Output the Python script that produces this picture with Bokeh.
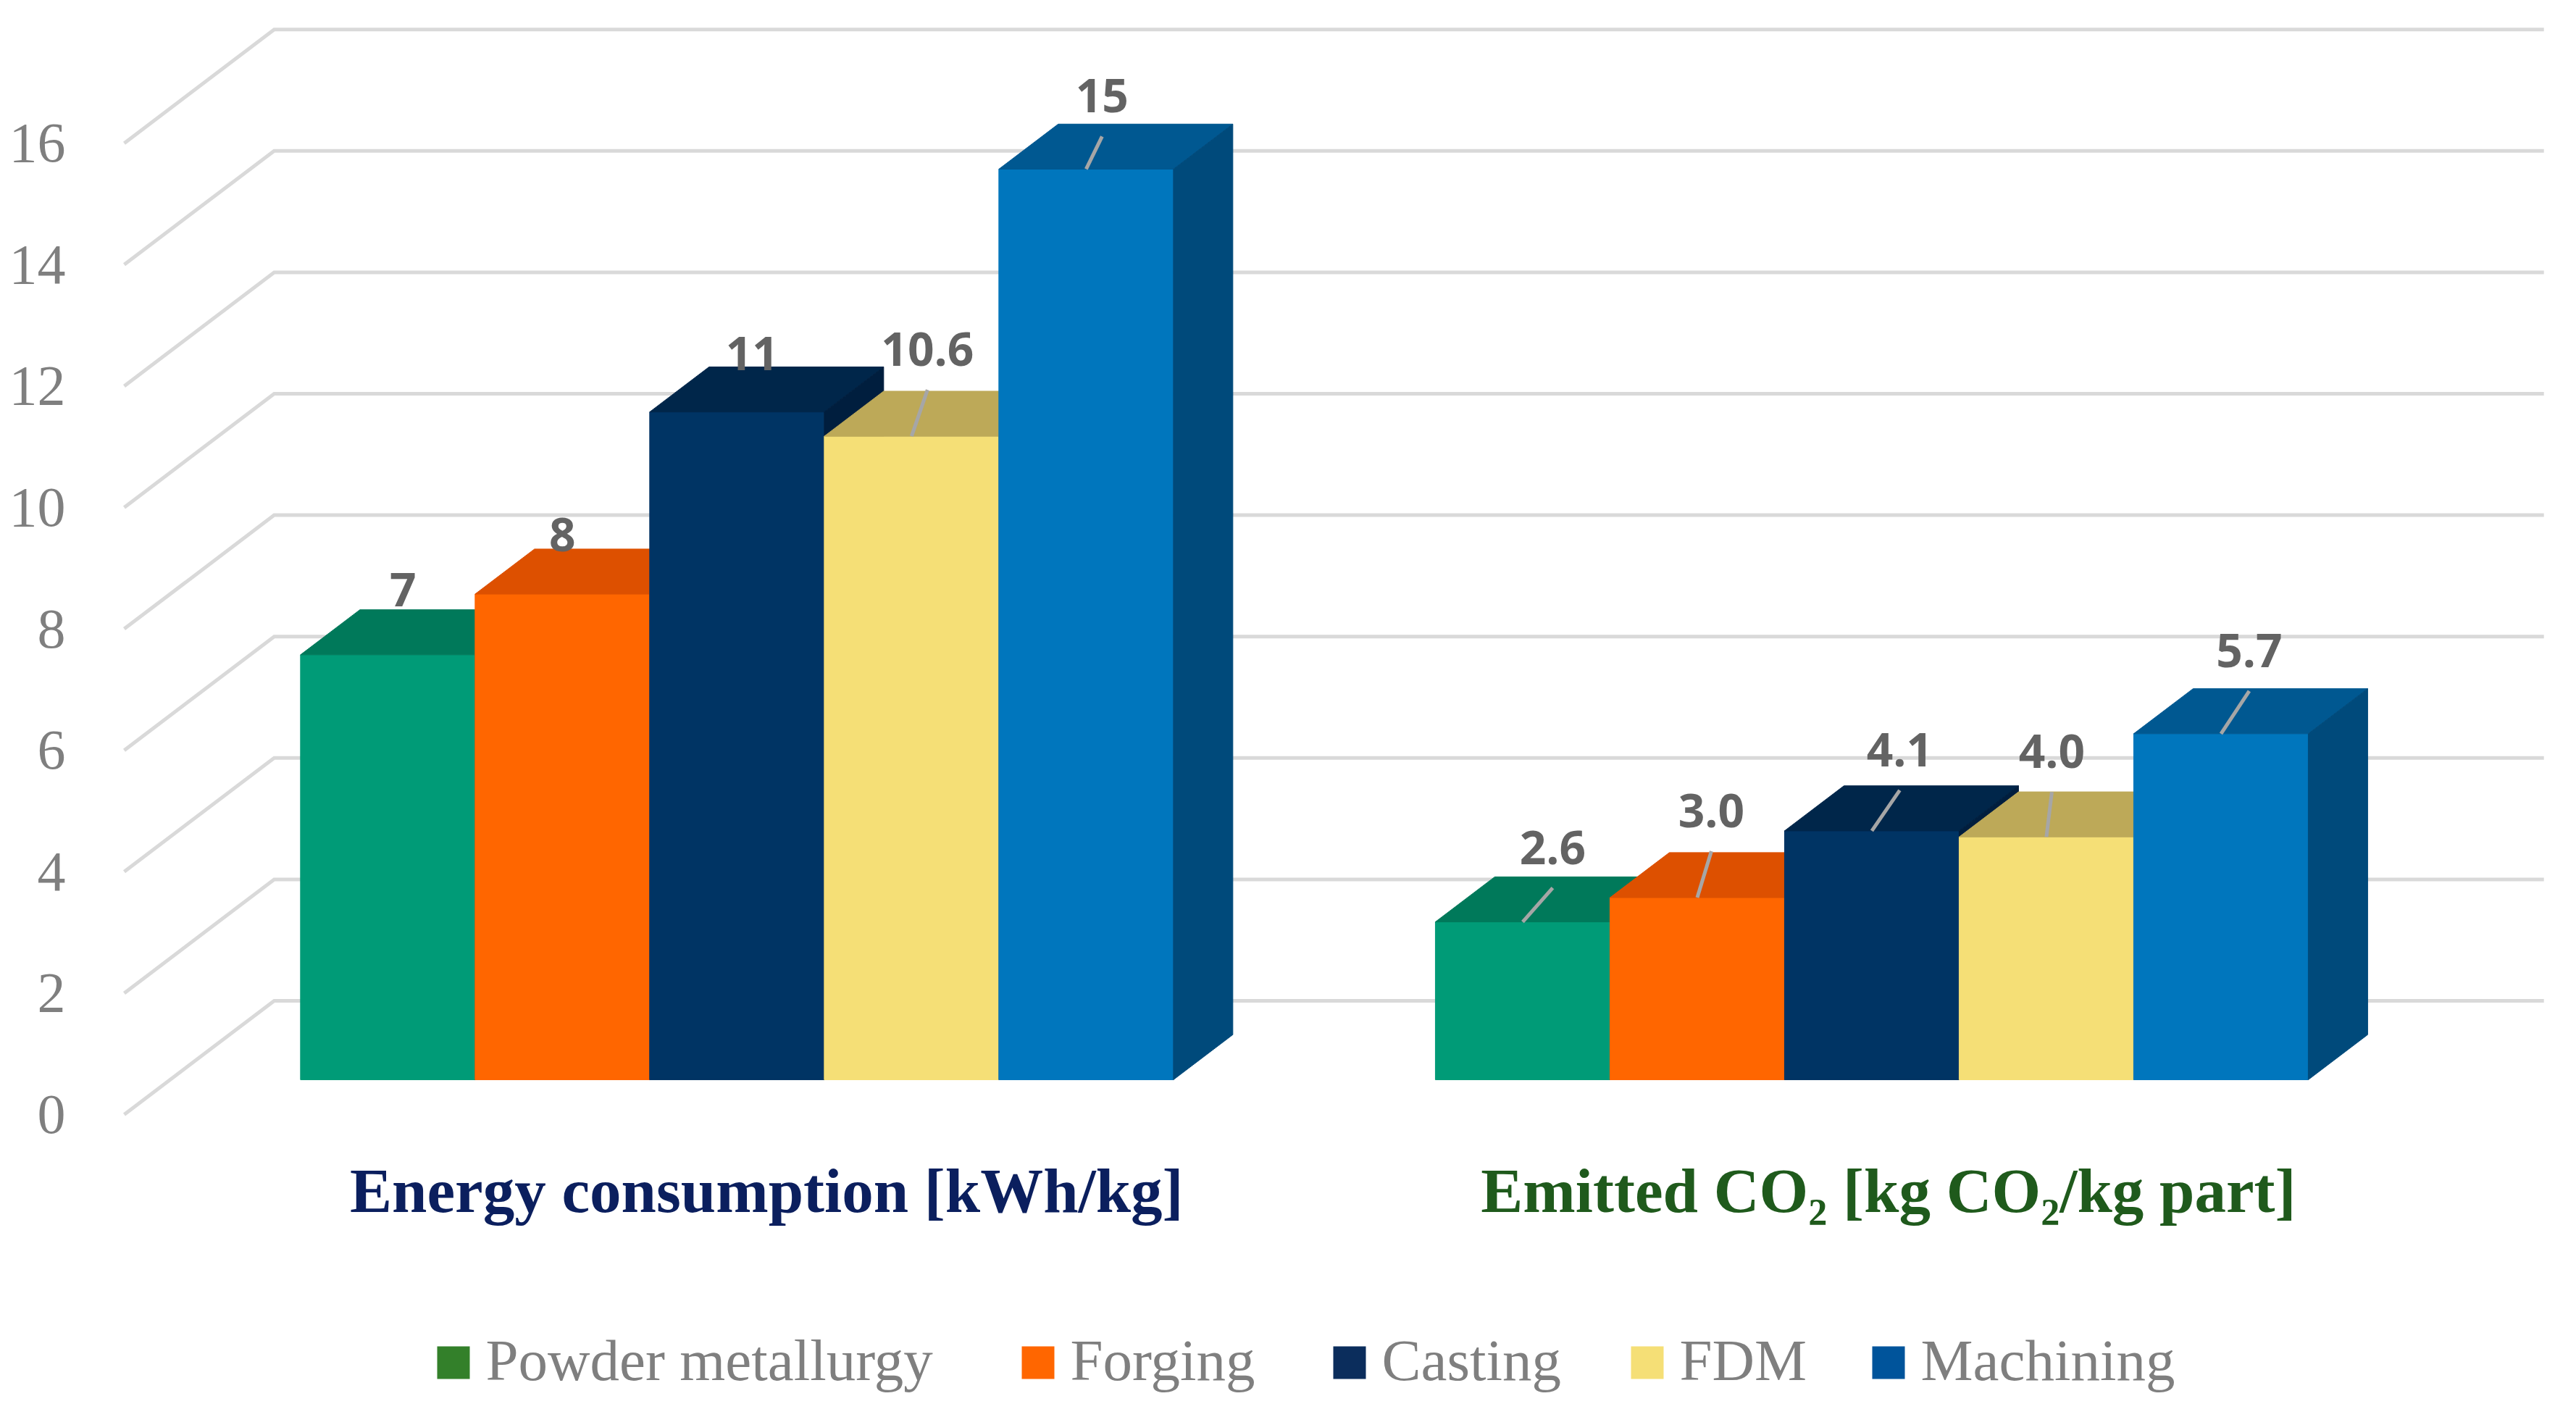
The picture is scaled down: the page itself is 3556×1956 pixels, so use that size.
from bokeh.plotting import figure
from bokeh.models import Range1d, FixedTicker
from bokeh.embed import file_html
from bokeh.resources import INLINE
from bokeh.core.properties import value

# ---------------- data ----------------
categories = ["Energy consumption [kWh/kg]", "Emitted CO\u2082 [kg CO\u2082/kg part]"]
series = ["Powder metallurgy", "Forging", "Casting", "FDM", "Machining"]
energy_consumption = [7, 8, 11, 10.6, 15]
emitted_co2 = [2.6, 3.0, 4.1, 4.0, 5.7]
energy_text = ["7", "8", "11", "10.6", "15"]
co2_text = ["2.6", "3.0", "4.1", "4.0", "5.7"]
y_ticks = [0, 2, 4, 6, 8, 10, 12, 14, 16]

# ---------------- styles ----------------
category_colors = ["#0B1F5E", "#1F5A1C"]
front_colors = ["#009B77", "#FF6600", "#003464", "#F5DF76", "#0076BD"]
top_colors = ["#00795A", "#DD5000", "#00264A", "#BDA958", "#005891"]
side_colors = ["#006A4E", "#C04600", "#001E3E", "#A89650", "#004A7B"]
legend_colors = ["#33802A", "#FF6600", "#0B2D5C", "#F5DF76", "#00549B"]
grid_color = "#D9D9D9"
label_color = "#636363"
axis_text_color = "#7F7F7F"

# ---------------- layout (pixels) ----------------
W, H = 3540, 1940
MARGIN = 0           # bokeh's page template has no body margin
PX = 83.8            # pixels per value unit
Y0 = 1538            # page y of value 0 on the front plane
FX = 171             # page x of the front-left floor corner
SLOT = 1566.6        # width of one category slot
GAP = 180            # gap before first bar in a slot
BW = 241             # bar width
DX = 207             # horizontal depth of the wall
DV = 157 / PX        # vertical depth of the wall in value units
ZF, ZB = 0.306, 0.702  # bar front / back depth fractions
LEFT_BORDER = 118
cat_label_dx = [0, -18]

# per-label offsets (px) from bar front-top centre and whether a leader is drawn
label_offsets = [[(21, -90), (0, -82), (21, -81), (22, -120), (22, -101)],
                 [(41.5, -103), (19.5, -120), (38.5, -112), (7.5, -118), (39, -115)]]
leader_flags = [[0, 0, 0, 1, 1], [1, 1, 1, 1, 1]]
legend_x = [603, 1410, 1840, 2251, 2584]


def vy(page_y):
    return (Y0 - page_y) / PX


values = [energy_consumption, emitted_co2]
texts = [energy_text, co2_text]

x_start = MARGIN + LEFT_BORDER
p = figure(width=W, height=H,
           x_range=Range1d(x_start, MARGIN + W),
           y_range=Range1d(vy(MARGIN + H), vy(MARGIN)),
           output_backend="svg", toolbar_location=None,
           x_axis_location=None,
           min_border_left=LEFT_BORDER, min_border_right=0,
           min_border_top=0, min_border_bottom=0)
p.outline_line_color = None
p.xgrid.visible = False
p.ygrid.visible = False
p.background_fill_color = "white"
p.border_fill_color = "white"

ax = p.yaxis[0]
ax.ticker = FixedTicker(ticks=y_ticks)
ax.axis_line_color = None
ax.major_tick_line_color = None
ax.minor_tick_line_color = None
ax.major_label_standoff = 22
ax.major_label_text_font = "Liberation Serif"
ax.major_label_text_font_size = "78px"
ax.major_label_text_color = axis_text_color

# ---------------- walls / gridlines ----------------
back_right = FX + 2 * SLOT + DX
gx, gy = [], []
for t in y_ticks:
    gx.append([FX, FX + DX, back_right])
    gy.append([t, t + DV, t + DV])
p.multi_line(gx, gy, line_color=grid_color, line_width=5, line_join="miter")

# ---------------- 3D bars ----------------
bdx = (ZB - ZF) * DX
bdv = (ZB - ZF) * DV
v0 = ZF * DV
pxs, pys, pcol = [], [], []
for c, vals in enumerate(values):
    for s, h in enumerate(vals):
        xl = FX + c * SLOT + GAP + s * BW + ZF * DX
        xr = xl + BW
        # front
        pxs.append([xl, xr, xr, xl]); pys.append([v0, v0, v0 + h, v0 + h]); pcol.append(front_colors[s])
        # top
        pxs.append([xl, xr, xr + bdx, xl + bdx]); pys.append([v0 + h, v0 + h, v0 + h + bdv, v0 + h + bdv]); pcol.append(top_colors[s])
        # side
        pxs.append([xr, xr + bdx, xr + bdx, xr]); pys.append([v0, v0 + bdv, v0 + h + bdv, v0 + h]); pcol.append(side_colors[s])
p.patches(pxs, pys, fill_color=pcol, line_color=pcol, line_width=1)

# ---------------- data labels + leader lines ----------------
lx, ly, lt = [], [], []
sx0, sy0, sx1, sy1 = [], [], [], []
for c, vals in enumerate(values):
    for s, h in enumerate(vals):
        cx = FX + c * SLOT + GAP + s * BW + ZF * DX + BW / 2
        top_page_y = Y0 - (v0 + h) * PX
        ox, oy = label_offsets[c][s]
        lab_x = cx + ox
        lab_y = top_page_y + oy
        lx.append(lab_x); ly.append(vy(lab_y)); lt.append(texts[c][s])
        if leader_flags[c][s]:
            sx0.append(lab_x); sy0.append(vy(lab_y + 56))
            sx1.append(cx); sy1.append(v0 + h)
p.segment(sx0, sy0, sx1, sy1, line_color="#A6A6A6", line_width=5)
p.text(lx, ly, text=lt, text_font=value("Open Sans"), text_font_style="bold",
       text_font_size=value("64px"), text_color=label_color,
       text_align="center", text_baseline="middle")

# ---------------- category labels ----------------
cat_x = [FX + c * SLOT + SLOT / 2 + DX / 2 + cat_label_dx[c] for c in range(len(categories))]
cat_y = [vy(1643)] * len(categories)
p.text(cat_x, cat_y, text=categories, text_color=category_colors,
       text_font=value("Liberation Serif"), text_font_style="bold",
       text_font_size=value("87px"), text_align="center", text_baseline="middle")

# ---------------- legend ----------------
sq = 45
p.quad(left=legend_x, right=[x + sq for x in legend_x],
       top=[vy(1858)] * len(series), bottom=[vy(1903)] * len(series),
       fill_color=legend_colors, line_color=None)
p.text([x + sq + 22 for x in legend_x], [vy(1877)] * len(series), text=series,
       text_color=axis_text_color, text_font=value("Liberation Serif"),
       text_font_size=value("81px"), text_align="left", text_baseline="middle")

open("out.html", "w").write(file_html(p, INLINE))
